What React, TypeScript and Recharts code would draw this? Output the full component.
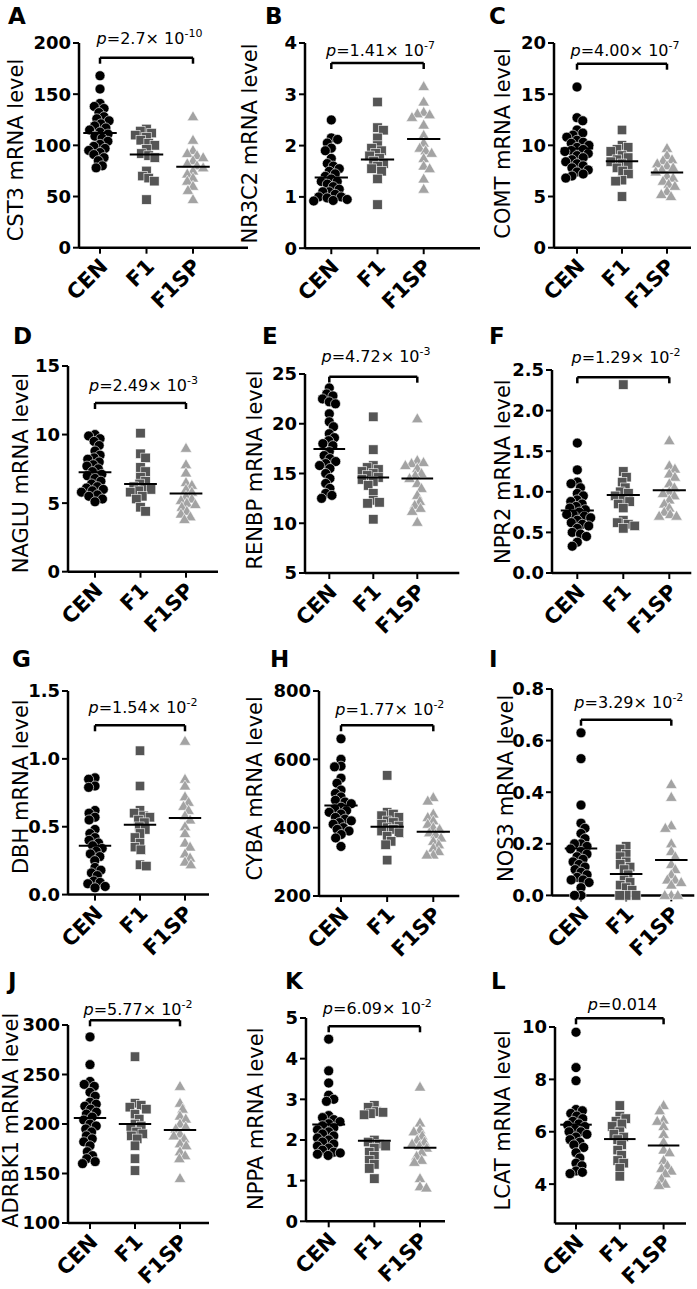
import React from "react";
import { ScatterChart, Scatter, XAxis, YAxis, ReferenceLine } from "recharts";

const FONT = "'DejaVu Sans', Arial, sans-serif";
const GROUPS = ["CEN", "F1", "F1SP"];

// A  CST3
const CST3_CEN = [168, 155, 141, 138, 136, 132, 128, 126, 124, 121, 119, 117, 115, 113, 111, 109, 107, 104, 101, 99, 97, 95, 93, 91, 88, 85, 80, 78];
const CST3_F1 = [116, 114, 112, 110, 108, 105, 102, 100, 96, 92, 90, 88, 75, 70, 68, 65, 47];
const CST3_F1SP = [128, 105, 95, 92, 90, 88, 85, 82, 80, 78, 75, 72, 68, 65, 60, 56, 47];
const CST3_MEANS = [112, 91, 79];

// B  NR3C2
const NR3C2_CEN = [2.5, 2.15, 2.12, 2.05, 1.95, 1.9, 1.75, 1.65, 1.6, 1.55, 1.5, 1.45, 1.4, 1.35, 1.3, 1.3, 1.25, 1.2, 1.15, 1.1, 1.1, 1.05, 1.0, 1.0, 0.98, 0.95, 0.93, 0.92];
const NR3C2_F1 = [2.85, 2.35, 2.3, 2.15, 2.0, 1.95, 1.9, 1.85, 1.8, 1.75, 1.7, 1.65, 1.6, 1.55, 1.5, 1.35, 0.85];
const NR3C2_F1SP = [3.15, 2.85, 2.65, 2.62, 2.6, 2.55, 2.4, 2.2, 2.05, 1.95, 1.9, 1.85, 1.75, 1.6, 1.55, 1.35, 1.15];
const NR3C2_MEANS = [1.38, 1.73, 2.13];

// C  COMT
const COMT_CEN = [15.7, 12.7, 12.4, 11.5, 11.2, 11.0, 10.8, 10.5, 10.3, 10.2, 10.0, 9.8, 9.6, 9.5, 9.4, 9.2, 9.0, 8.8, 8.6, 8.4, 8.2, 8.0, 7.8, 7.6, 7.4, 7.2, 7.0, 6.8];
const COMT_F1 = [11.5, 10.0, 9.8, 9.6, 9.4, 9.0, 8.8, 8.6, 8.4, 8.2, 8.0, 7.8, 7.5, 7.2, 6.6, 6.5, 5.0];
const COMT_F1SP = [9.7, 9.0, 8.6, 8.5, 8.2, 8.0, 7.8, 7.6, 7.4, 7.0, 6.8, 6.5, 6.2, 6.0, 5.5, 5.2, 5.0];
const COMT_MEANS = [9.7, 8.45, 7.35];

// D  NAGLU
const NAGLU_CEN = [10.0, 9.9, 9.7, 9.5, 9.2, 8.8, 8.5, 8.3, 8.2, 8.0, 7.8, 7.7, 7.5, 7.3, 7.1, 7.0, 6.8, 6.6, 6.4, 6.2, 6.1, 6.0, 5.9, 5.8, 5.6, 5.5, 5.3, 5.1];
const NAGLU_F1 = [10.1, 8.6, 8.3, 7.6, 7.3, 6.9, 6.6, 6.4, 6.2, 6.1, 6.0, 5.9, 5.8, 5.5, 5.3, 4.7, 4.4];
const NAGLU_F1SP = [9.0, 7.8, 7.2, 6.5, 6.3, 6.0, 5.8, 5.5, 5.3, 5.2, 5.0, 4.9, 4.7, 4.4, 4.2, 4.0, 3.8];
const NAGLU_MEANS = [7.25, 6.4, 5.7];

// E  RENBP
const RENBP_CEN = [23.6, 23.0, 22.8, 22.5, 22.2, 22.0, 21.0, 20.2, 19.7, 19.0, 18.6, 18.3, 18.0, 17.8, 17.2, 16.8, 16.5, 16.2, 16.0, 15.8, 15.5, 15.0, 14.5, 14.0, 13.5, 13.0, 12.8, 12.5];
const RENBP_F1 = [20.7, 17.4, 15.8, 15.6, 15.4, 15.2, 15.0, 14.8, 14.6, 14.4, 14.2, 13.8, 13.0, 12.3, 12.1, 12.0, 10.4];
const RENBP_F1SP = [20.5, 16.3, 16.1, 16.0, 15.8, 15.5, 15.0, 14.8, 14.5, 14.0, 13.5, 12.8, 12.2, 11.8, 11.5, 11.2, 10.1];
const RENBP_MEANS = [17.45, 14.6, 14.5];

// F  NPR2
const NPR2_CEN = [1.6, 1.27, 1.12, 1.1, 1.05, 0.98, 0.95, 0.9, 0.88, 0.85, 0.82, 0.8, 0.78, 0.75, 0.72, 0.72, 0.7, 0.68, 0.65, 0.62, 0.6, 0.58, 0.55, 0.5, 0.48, 0.45, 0.38, 0.33];
const NPR2_F1 = [2.32, 1.25, 1.18, 1.12, 1.05, 1.0, 0.98, 0.95, 0.9, 0.88, 0.85, 0.8, 0.65, 0.62, 0.6, 0.58, 0.55];
const NPR2_F1SP = [1.63, 1.32, 1.28, 1.22, 1.18, 1.1, 1.05, 1.0, 0.98, 0.95, 0.9, 0.85, 0.8, 0.75, 0.72, 0.7, 0.7];
const NPR2_MEANS = [0.77, 0.96, 1.02];

// G  DBH
const DBH_CEN = [0.86, 0.85, 0.8, 0.79, 0.62, 0.6, 0.57, 0.55, 0.48, 0.45, 0.42, 0.4, 0.38, 0.36, 0.34, 0.32, 0.3, 0.28, 0.25, 0.2, 0.18, 0.16, 0.14, 0.1, 0.09, 0.08, 0.06, 0.05];
const DBH_F1 = [1.06, 0.8, 0.62, 0.6, 0.58, 0.57, 0.55, 0.53, 0.5, 0.48, 0.45, 0.42, 0.38, 0.35, 0.33, 0.22, 0.21];
const DBH_F1SP = [1.13, 0.85, 0.8, 0.72, 0.68, 0.65, 0.62, 0.58, 0.55, 0.5, 0.45, 0.38, 0.35, 0.3, 0.27, 0.24, 0.22];
const DBH_MEANS = [0.36, 0.515, 0.565];

// H  CYBA
const CYBA_CEN = [660, 600, 580, 578, 545, 530, 510, 500, 490, 480, 475, 470, 460, 455, 450, 445, 440, 430, 425, 420, 415, 410, 400, 395, 390, 380, 370, 345];
const CYBA_F1 = [553, 445, 440, 435, 430, 420, 415, 410, 405, 400, 395, 390, 385, 375, 360, 350, 305];
const CYBA_F1SP = [488, 478, 440, 430, 420, 410, 400, 395, 385, 380, 370, 360, 350, 340, 330, 320, 320];
const CYBA_MEANS = [465, 403, 388];

// I  NOS3
const NOS3_CEN = [0.63, 0.53, 0.35, 0.28, 0.26, 0.24, 0.22, 0.2, 0.2, 0.19, 0.18, 0.17, 0.16, 0.15, 0.14, 0.13, 0.12, 0.11, 0.1, 0.09, 0.08, 0.07, 0.06, 0.06, 0.05, 0.03, 0.0, 0.0];
const NOS3_F1 = [0.19, 0.18, 0.16, 0.15, 0.13, 0.12, 0.11, 0.1, 0.08, 0.06, 0.05, 0.04, 0.03, 0.02, 0.0, 0.0, 0.0];
const NOS3_F1SP = [0.43, 0.38, 0.27, 0.26, 0.2, 0.17, 0.15, 0.12, 0.1, 0.08, 0.06, 0.06, 0.05, 0.04, 0.0, 0.0, 0.0];
const NOS3_MEANS = [0.182, 0.083, 0.137];

// J  ADRBK1
const ADRBK1_CEN = [288, 260, 243, 240, 238, 232, 228, 222, 220, 218, 215, 212, 210, 207, 204, 200, 198, 195, 192, 188, 185, 182, 178, 172, 168, 165, 162, 160];
const ADRBK1_F1 = [268, 221, 219, 217, 215, 210, 205, 200, 198, 195, 192, 190, 188, 185, 178, 165, 153];
const ADRBK1_F1SP = [238, 221, 215, 208, 205, 200, 197, 195, 190, 188, 185, 180, 178, 172, 168, 165, 145];
const ADRBK1_MEANS = [206, 200, 194];

// K  NPPA
const NPPA_CEN = [4.48, 3.7, 3.4, 3.1, 3.0, 2.95, 2.6, 2.55, 2.5, 2.45, 2.4, 2.35, 2.3, 2.25, 2.2, 2.15, 2.1, 2.05, 2.0, 1.95, 1.9, 1.85, 1.8, 1.75, 1.7, 1.68, 1.65, 1.62];
const NPPA_F1 = [2.85, 2.8, 2.7, 2.68, 2.65, 2.62, 2.0, 1.95, 1.9, 1.85, 1.8, 1.7, 1.6, 1.5, 1.4, 1.3, 1.05];
const NPPA_F1SP = [3.3, 2.42, 2.25, 2.2, 2.1, 2.0, 1.95, 1.9, 1.85, 1.8, 1.7, 1.6, 1.5, 1.45, 1.05, 0.85, 0.82];
const NPPA_MEANS = [2.38, 1.98, 1.81];

// L  LCAT
const LCAT_CEN = [9.8, 8.45, 7.95, 6.85, 6.8, 6.7, 6.6, 6.5, 6.4, 6.3, 6.25, 6.2, 6.1, 6.0, 6.0, 5.9, 5.8, 5.7, 5.6, 5.5, 5.4, 5.2, 5.0, 4.8, 4.7, 4.5, 4.45, 4.4];
const LCAT_F1 = [7.0, 6.6, 6.5, 6.4, 6.3, 6.2, 6.0, 5.9, 5.8, 5.7, 5.5, 5.3, 5.1, 4.9, 4.8, 4.6, 4.3];
const LCAT_F1SP = [7.0, 6.8, 6.45, 6.4, 6.2, 5.9, 5.6, 5.3, 5.2, 4.9, 4.7, 4.6, 4.5, 4.4, 4.2, 4.0, 3.95];
const LCAT_MEANS = [6.27, 5.72, 5.47];

const P_VALUES: [string, string | null][] = [
  ["2.7", "-10"], ["1.41", "-7"], ["4.00", "-7"],
  ["2.49", "-3"], ["4.72", "-3"], ["1.29", "-2"],
  ["1.54", "-2"], ["1.77", "-2"], ["3.29", "-2"],
  ["5.77", "-2"], ["6.09", "-2"], ["0.014", null],
];

type PanelCfg = {
  letter: string;
  gene: string;
  groups: number[][];
  means: number[];
  domain: [number, number];
  ticks: number[];
  dec: number;
  // layout (page px)
  ax: number; top: number; bottom: number; end: number; c0: number; c2: number;
  br: number; gap: number; lx: number; ly: number; gx: number; gy: number;
};

const PANELS: PanelCfg[] = [
  { letter: "A", gene: "CST3", groups: [CST3_CEN, CST3_F1, CST3_F1SP], means: CST3_MEANS, domain: [0, 200], ticks: [0, 50, 100, 150, 200], dec: 0,
    ax: 79, top: 43.3, bottom: 248, end: 248, c0: 100, c2: 193, br: 14.7, gap: 14, lx: 8, ly: 24, gx: 16, gy: 150 },
  { letter: "B", gene: "NR3C2", groups: [NR3C2_CEN, NR3C2_F1, NR3C2_F1SP], means: NR3C2_MEANS, domain: [0, 4], ticks: [0, 1, 2, 3, 4], dec: 0,
    ax: 305, top: 43.3, bottom: 248.5, end: 480, c0: 331.3, c2: 423.7, br: 20, gap: 7, lx: 265, ly: 24, gx: 249.5, gy: 143.5 },
  { letter: "C", gene: "COMT", groups: [COMT_CEN, COMT_F1, COMT_F1SP], means: COMT_MEANS, domain: [0, 20], ticks: [0, 5, 10, 15, 20], dec: 0,
    ax: 554, top: 43.3, bottom: 248, end: 691, c0: 577, c2: 667, br: 20.7, gap: 8, lx: 489, ly: 24, gx: 503, gy: 143.5 },
  { letter: "D", gene: "NAGLU", groups: [NAGLU_CEN, NAGLU_F1, NAGLU_F1SP], means: NAGLU_MEANS, domain: [0, 15], ticks: [0, 5, 10, 15], dec: 0,
    ax: 68, top: 366, bottom: 571.7, end: 218, c0: 95, c2: 186, br: 37, gap: 11.6, lx: 13, ly: 344, gx: 20.7, gy: 473 },
  { letter: "E", gene: "RENBP", groups: [RENBP_CEN, RENBP_F1, RENBP_F1SP], means: RENBP_MEANS, domain: [5, 25], ticks: [5, 10, 15, 20, 25], dec: 0,
    ax: 304.7, top: 374, bottom: 573, end: 459, c0: 329, c2: 417, br: 2.7, gap: 15, lx: 262, ly: 344, gx: 255.3, gy: 470 },
  { letter: "F", gene: "NPR2", groups: [NPR2_CEN, NPR2_F1, NPR2_F1SP], means: NPR2_MEANS, domain: [0, 2.5], ticks: [0, 0.5, 1, 1.5, 2, 2.5], dec: 1,
    ax: 551.7, top: 370, bottom: 573, end: 691, c0: 577, c2: 669, br: 7.3, gap: 14, lx: 489, ly: 344, gx: 503, gy: 471.7 },
  { letter: "G", gene: "DBH", groups: [DBH_CEN, DBH_F1, DBH_F1SP], means: DBH_MEANS, domain: [0, 1.5], ticks: [0, 0.5, 1, 1.5], dec: 1,
    ax: 68, top: 690.7, bottom: 894.3, end: 209, c0: 95, c2: 185, br: 34.3, gap: 11.7, lx: 12, ly: 667, gx: 20.7, gy: 786.7 },
  { letter: "H", gene: "CYBA", groups: [CYBA_CEN, CYBA_F1, CYBA_F1SP], means: CYBA_MEANS, domain: [200, 800], ticks: [200, 400, 600, 800], dec: 0,
    ax: 318.7, top: 690.7, bottom: 895.7, end: 459, c0: 340.7, c2: 433, br: 34.3, gap: 10, lx: 270, ly: 667, gx: 255.3, gy: 788.3 },
  { letter: "I", gene: "NOS3", groups: [NOS3_CEN, NOS3_F1, NOS3_F1SP], means: NOS3_MEANS, domain: [0, 0.8], ticks: [0, 0.2, 0.4, 0.6, 0.8], dec: 1,
    ax: 551.7, top: 689.3, bottom: 895.7, end: 694, c0: 580.7, c2: 671, br: 30.7, gap: 11.7, lx: 489, ly: 667, gx: 505.7, gy: 788.3 },
  { letter: "J", gene: "ADRBK1", groups: [ADRBK1_CEN, ADRBK1_F1, ADRBK1_F1SP], means: ADRBK1_MEANS, domain: [100, 300], ticks: [100, 150, 200, 250, 300], dec: 0,
    ax: 68, top: 1025, bottom: 1223, end: 209, c0: 90, c2: 180, br: -4.7, gap: 5.5, lx: 8, ly: 989, gx: 10.5, gy: 1120.3 },
  { letter: "K", gene: "NPPA", groups: [NPPA_CEN, NPPA_F1, NPPA_F1SP], means: NPPA_MEANS, domain: [0, 5], ticks: [0, 1, 2, 3, 4, 5], dec: 0,
    ax: 306, top: 1017.7, bottom: 1221, end: 445, c0: 328.7, c2: 420, br: 8.3, gap: 11.7, lx: 285, ly: 989, gx: 256, gy: 1118.7 },
  { letter: "L", gene: "LCAT", groups: [LCAT_CEN, LCAT_F1, LCAT_F1SP], means: LCAT_MEANS, domain: [2.5, 10], ticks: [4, 6, 8, 10], dec: 0,
    ax: 554.7, top: 1027.3, bottom: 1223.7, end: 685.7, c0: 575.7, c2: 663.3, br: -8.7, gap: 8.4, lx: 491, ly: 989, gx: 503, gy: 1120.3 },
];

const YW = 70;
const MT = 50;
const MR = 10;
const XH = 70;
const MB = 5;
const DIAM = 6.5;
const HALF_BAR = 0.36;
const COLORS = ["#000000", "#555555", "#a3a3a3"];

// simple beeswarm: spread points that share a similar height sideways
function swarm(values: number[], pxPerVal: number, d: number): number[] {
  const order = values.map((_v, i) => i).sort((a, b) => values[b] - values[a]);
  const placed: { x: number; y: number }[] = [];
  const out = new Array(values.length).fill(0);
  order.forEach((i, k) => {
    const y = values[i] * pxPerVal;
    const near = placed.filter((p) => Math.abs(p.y - y) < d);
    const cands = [0];
    near.forEach((p) => {
      const dx = Math.sqrt(d * d - (p.y - y) ** 2);
      cands.push(p.x + dx, p.x - dx);
    });
    const ok = cands.filter((x) => near.every((p) => (p.x - x) ** 2 + (p.y - y) ** 2 >= d * d - 0.01));
    ok.sort((a, b) => Math.abs(a) - Math.abs(b) || (k % 2 ? a - b : b - a));
    const x = ok[0];
    placed.push({ x, y });
    out[i] = x;
  });
  return out;
}

const Dot = (props: any) => <circle cx={props.cx} cy={props.cy} r={5} fill={COLORS[0]} stroke="#fff" strokeWidth={0.6} />;
const Sq = (props: any) => (
  <rect x={props.cx - 4.75} y={props.cy - 4.75} width={9.5} height={9.5} fill={COLORS[1]} stroke="#fff" strokeWidth={0.6} />
);
const Tri = (props: any) => (
  <polygon
    points={`${props.cx},${props.cy - 6} ${props.cx + 5.8},${props.cy + 4} ${props.cx - 5.8},${props.cy + 4}`}
    fill={COLORS[2]}
    stroke="#fff"
    strokeWidth={0.6}
  />
);
const SHAPES = [Dot, Sq, Tri];

const XTick = (props: any) => {
  const { x, y, payload } = props;
  const px = x + 9;
  const py = y + 12;
  return (
    <text x={px} y={py} transform={`rotate(-45 ${px} ${py})`} textAnchor="end" fontFamily={FONT} fontSize={21} fontWeight="bold" fill="#000">
      {GROUPS[Math.round(payload.value) - 1]}
    </text>
  );
};

function Panel({ p }: { p: PanelCfg }) {
  const plotW = p.end - p.ax;
  const plotH = p.bottom - p.top;
  const unit = (p.c2 - p.c0) / 2;
  const xDom: [number, number] = [1 - (p.c0 - p.ax) / unit, 3 + (p.end - p.c2) / unit];
  const pxPerVal = plotH / (p.domain[1] - p.domain[0]);
  const W = YW + plotW + MR;
  const H = MT + plotH + XH + MB;
  const series = p.groups.map((vals, g) => {
    const off = swarm(vals, pxPerVal, DIAM);
    return vals.map((v, i) => ({ x: g + 1 + off[i] / unit, y: v }));
  });
  const meanData = p.means.map((m, g) => ({ x: g + 1, y: m }));
  const halfPx = HALF_BAR * unit;
  const MeanBar = (s: any) => (
    <line x1={s.cx - halfPx} x2={s.cx + halfPx} y1={s.cy} y2={s.cy} stroke="#000" strokeWidth={2} />
  );
  const by = p.domain[1] - p.br / pxPerVal;
  const drop = 6 / pxPerVal;
  const line = { stroke: "#000", strokeWidth: 2.5 };
  return (
    <div style={{ position: "absolute", left: p.ax - YW, top: p.top - MT }}>
      <ScatterChart width={W} height={H} margin={{ top: MT, right: MR, bottom: MB, left: 0 }}>
        <XAxis
          type="number"
          dataKey="x"
          domain={xDom}
          ticks={[1, 2, 3]}
          interval={0}
          height={XH}
          tick={<XTick />}
          tickSize={6}
          axisLine={line}
          tickLine={{ stroke: "#000", strokeWidth: 2 }}
        />
        <YAxis
          type="number"
          dataKey="y"
          domain={p.domain}
          ticks={p.ticks}
          interval={0}
          width={YW}
          tickSize={6}
          tickMargin={2}
          tickFormatter={(v: number) => v.toFixed(p.dec)}
          tick={{ fill: "#000", fontSize: 18, fontWeight: "bold", fontFamily: FONT }}
          axisLine={line}
          tickLine={{ stroke: "#000", strokeWidth: 2 }}
        />
        {series.map((d, g) => (
          <Scatter key={GROUPS[g]} data={d} shape={SHAPES[g]} isAnimationActive={false} />
        ))}
        <Scatter key="means" data={meanData} shape={MeanBar} isAnimationActive={false} />
        <ReferenceLine segment={[{ x: 1, y: by }, { x: 3, y: by }]} {...line} ifOverflow="visible" />
        <ReferenceLine segment={[{ x: 1, y: by }, { x: 1, y: by - drop }]} {...line} ifOverflow="visible" />
        <ReferenceLine segment={[{ x: 3, y: by }, { x: 3, y: by - drop }]} {...line} ifOverflow="visible" />
      </ScatterChart>
    </div>
  );
}

export default function App() {
  return (
    <div style={{ position: "absolute", left: 0, top: 0, width: 697, height: 1289, background: "#fff" }}>
      {PANELS.map((p) => (
        <Panel key={p.letter} p={p} />
      ))}
      <svg width={697} height={1289} style={{ position: "absolute", left: 0, top: 0, pointerEvents: "none" }}>
        {PANELS.map((p, i) => {
          const [base, exp] = P_VALUES[i];
          const cx = (p.c0 + p.c2) / 2 + 3;
          const yb = p.top + p.br - p.gap;
          return (
            <g key={p.letter} fontFamily={FONT} fill="#000">
              <text x={p.lx} y={p.ly} fontSize={23} fontWeight="bold">
                {p.letter}
              </text>
              <text
                transform={`translate(${p.gx} ${p.gy}) rotate(-90)`}
                textAnchor="middle"
                dominantBaseline="central"
                fontSize={21}
              >
                {p.gene} mRNA level
              </text>
              <text x={cx} y={yb} textAnchor="middle" fontSize={16}>
                <tspan fontStyle="italic">p</tspan>
                <tspan>{exp ? `=${base}× 10` : `=${base}`}</tspan>
                {exp && (
                  <tspan dy={-7} fontSize={11}>
                    {exp}
                  </tspan>
                )}
              </text>
            </g>
          );
        })}
      </svg>
    </div>
  );
}
